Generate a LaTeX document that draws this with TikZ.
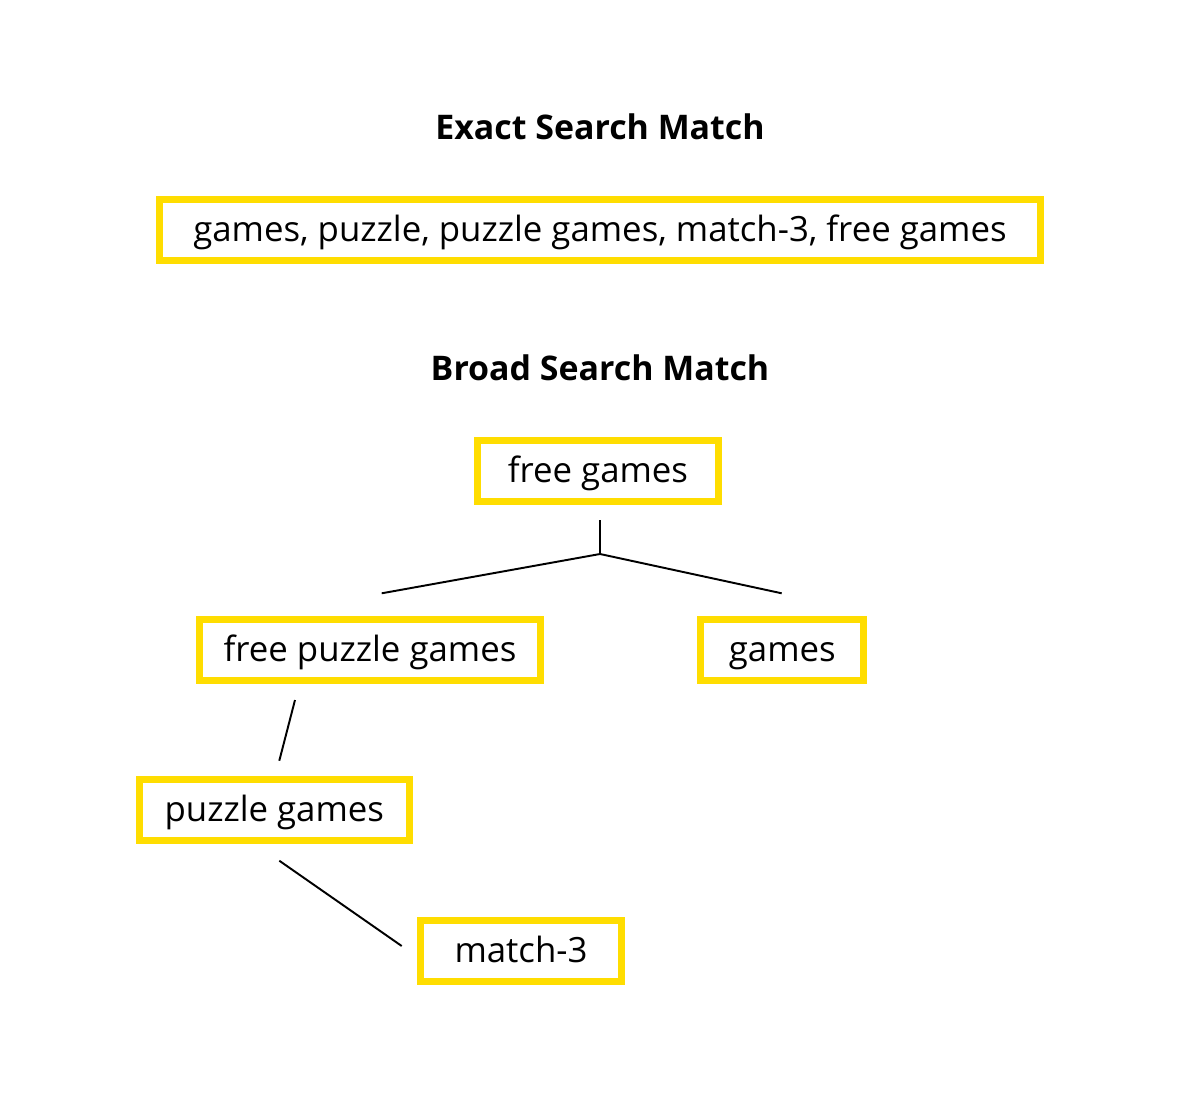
\documentclass[tikz,border=0pt]{standalone}
\usepackage{fontspec}
\setmainfont{Open Sans}
\definecolor{ybox}{RGB}{255,221,0}
\begin{document}
\begin{tikzpicture}[x=0.02cm,y=-0.02cm,
  kw/.style={draw=ybox, line width=4pt, inner sep=0pt, minimum height=1.22cm,
    font=\fontsize{19.8}{23}\selectfont, text height=16.4pt, text depth=3.4pt},
  ttl/.style={anchor=base, inner sep=0pt, font=\bfseries\fontsize{19.3}{23}\selectfont},
  conn/.style={draw=black, line width=1.1pt}]
\useasboundingbox[fill=white] (0,0) rectangle (1195,1118);

\node[ttl] (t1) at (600,139.5) {Exact Search Match};
\node[kw, minimum width=17.62cm] (exact) at (600,230) {games, puzzle, puzzle games, match-3, free games};

\node[ttl] (t2) at (600,380) {Broad Search Match};
\node[kw, minimum width=4.82cm] (fg) at (598,471) {free games};
\node[kw, minimum width=6.82cm] (fpg) at (370,650) {free puzzle games};
\node[kw, minimum width=3.26cm] (g) at (782.3,650) {games};
\node[kw, minimum width=5.40cm] (pg) at (274.3,809.7) {puzzle games};
\node[kw, minimum width=4.01cm] (m3) at (521,951) {match-3};

\coordinate (top) at (600,520);
\coordinate (j) at (600,554);
\coordinate (l1) at (381.7,593.3);
\coordinate (r1) at (781.7,593.3);
\coordinate (a1) at (295,700);
\coordinate (a2) at (279.3,760.7);
\coordinate (b1) at (279.3,860.7);
\coordinate (b2) at (401.7,946);

\draw[conn] (top) -- (j) -- (l1);
\draw[conn] (j) -- (r1);
\draw[conn] (a1) -- (a2);
\draw[conn] (b1) -- (b2);
\end{tikzpicture}
\end{document}
